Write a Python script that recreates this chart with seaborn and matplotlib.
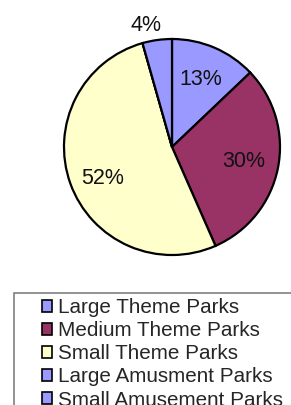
import numpy as np
import matplotlib
matplotlib.use("Agg")
import matplotlib.pyplot as plt
import seaborn as sns
from matplotlib.patches import Rectangle

sns.set_style("white")
plt.rcParams['font.family'] = ['Liberation Sans', 'DejaVu Sans']

categories = ['Large Theme Parks', 'Medium Theme Parks', 'Small Theme Parks',
              'Large Amusment Parks', 'Small Amusement Parks']
shares = [12.9, 30.5, 52.2, 0.0, 4.4]
colors = ['#9999FF', '#993366', '#FFFFCC', '#9999FF', '#9999FF']

W, H = 291, 405
fig = plt.figure(figsize=(W / 100, H / 100), dpi=100)

# pie: centre (172,147), radius 108 px
cx, cy, r = 172, 147, 108
ax = fig.add_axes([(cx - r) / W, 1 - (cy + r) / H, 2 * r / W, 2 * r / H])

def pct(p):
    return '' if p < 0.5 else '%.0f%%' % p

wedges, texts, autotexts = ax.pie(shares, colors=colors, startangle=90, counterclock=False,
                                  autopct=pct, pctdistance=0.68,
                                  wedgeprops=dict(edgecolor='black', linewidth=1.6),
                                  textprops=dict(fontsize=15.5, color='#111111'))
ax.set_xlim(-1, 1)
ax.set_ylim(-1, 1)
ax.set_aspect('equal')

for w, t, v in zip(wedges, autotexts, shares):
    ang = np.deg2rad((w.theta1 + w.theta2) / 2)
    if 0 < v < 8:
        # small slice label sits outside the pie
        t.set_position((1.14 * np.cos(ang) - 0.08, 1.14 * np.sin(ang)))
    elif v > 50:
        t.set_position((0.68 * np.cos(ang), 0.68 * np.sin(ang) - 0.06))

# legend box (runs off the figure edge)
fig.patches.append(Rectangle((13.5 / W, -0.2), 1, (H - 293) / H + 0.2, transform=fig.transFigure,
                             facecolor='none', edgecolor='#808080', linewidth=1.2))
handles = [Rectangle((0, 0), 1, 1, facecolor=c, edgecolor='black', linewidth=1.2) for c in colors]
fig.legend(handles, categories, loc='upper left', bbox_to_anchor=(42 / W, 1 - 298 / H),
           frameon=False, fontsize=14.9, borderpad=0, borderaxespad=0,
           handlelength=0.5, handleheight=0.5, handletextpad=0.25, labelspacing=0.2)

fig.savefig('out.png', dpi=100)
